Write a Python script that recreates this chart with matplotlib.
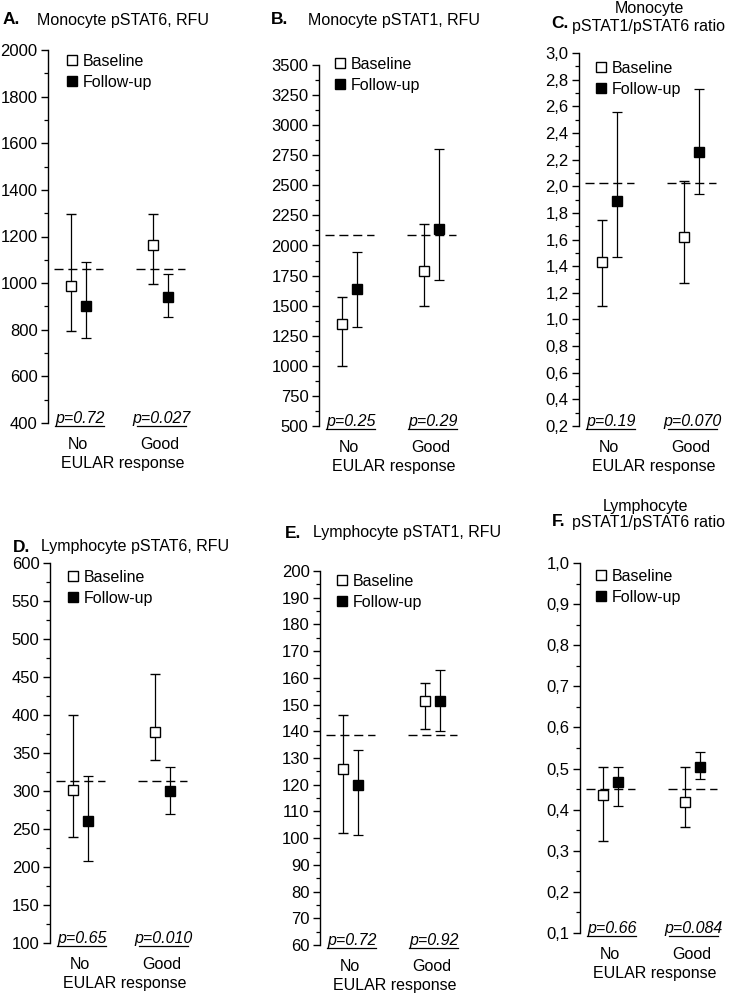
import matplotlib
matplotlib.use("Agg")
import matplotlib.pyplot as plt
from matplotlib.lines import Line2D
from matplotlib.ticker import MultipleLocator, FuncFormatter

plt.rcParams['font.family'] = ['Liberation Sans', 'DejaVu Sans']

# groups on the x axis
groups = ["No", "Good"]
series = ["Baseline", "Follow-up"]

# each entry: (mean, lower, upper) for No / Good
mono6_base = [(986, 793, 1297), (1164, 996, 1297)]
mono6_fu = [(903, 764, 1090), (939, 856, 1039)]
mono6_ref = 1060
mono6_p = ["p=0.72", "p=0.027"]

mono1_base = [(1345, 1000, 1570), (1790, 1495, 2182)]
mono1_fu = [(1636, 1323, 1946), (2133, 1717, 2804)]
mono1_ref = 2087
mono1_p = ["p=0.25", "p=0.29"]

mono_ratio_base = [(1.43, 1.10, 1.75), (1.62, 1.27, 2.04)]
mono_ratio_fu = [(1.89, 1.47, 2.56), (2.255, 1.945, 2.73)]
mono_ratio_ref = 2.025
mono_ratio_p = ["p=0.19", "p=0.070"]

lymph6_base = [(301, 240, 400), (378, 341, 454)]
lymph6_fu = [(261, 208, 320), (300, 270, 331)]
lymph6_ref = 313
lymph6_p = ["p=0.65", "p=0.010"]

lymph1_base = [(126, 102, 146), (151.5, 141, 158)]
lymph1_fu = [(120, 101, 133), (151.5, 140, 163)]
lymph1_ref = 138.5
lymph1_p = ["p=0.72", "p=0.92"]

lymph_ratio_base = [(0.435, 0.325, 0.503), (0.418, 0.357, 0.505)]
lymph_ratio_fu = [(0.467, 0.41, 0.505), (0.504, 0.474, 0.54)]
lymph_ratio_ref = 0.45
lymph_ratio_p = ["p=0.66", "p=0.084"]

W, H = 733, 1001
fig = plt.figure(figsize=(W / 100, H / 100), dpi=100)


def px_axes(left, bottom, top, width=150):
    return fig.add_axes([left / W, 1 - bottom / H, width / W, (bottom - top) / H])


def comma(v, pos):
    return f"{v:.1f}".replace(".", ",")


def draw_panel(ax, base, fu, ref, pvals, ylim, major, comma_fmt, leg_xy):
    off = 0.09
    for i, (b, f) in enumerate(zip(base, fu)):
        ax.errorbar(i - off, b[0], yerr=[[b[0] - b[1]], [b[2] - b[0]]], fmt='s',
                    ms=6.8, mfc='white', mec='black', mew=1.0, ecolor='black',
                    elinewidth=0.9, capsize=3.8, capthick=0.9, zorder=3)
        ax.errorbar(i + off, f[0], yerr=[[f[0] - f[1]], [f[2] - f[0]]], fmt='s',
                    ms=6.8, mfc='black', mec='black', ecolor='black',
                    elinewidth=0.9, capsize=3.8, capthick=0.9, zorder=3)
        ax.plot([i - 0.3, i + 0.3], [ref, ref], color='black', lw=1.0,
                ls=(0, (6.5, 3.5)), zorder=1)
        # p-value with underline just under the axis bottom
        ax.text(i + 0.02, -0.009, pvals[i], transform=ax.get_xaxis_transform(),
                ha='center', va='bottom', style='italic', fontsize=11.5)
        ax.plot([i - 0.29, i + 0.31], [-0.009, -0.009], color='black', lw=0.9,
                transform=ax.get_xaxis_transform(), clip_on=False)

    ax.set_xlim(-0.37, 1.46)
    ax.set_ylim(*ylim)
    ax.yaxis.set_major_locator(MultipleLocator(major))
    ax.yaxis.set_minor_locator(MultipleLocator(major / 2))
    if comma_fmt:
        ax.yaxis.set_major_formatter(FuncFormatter(comma))
    for s in ['top', 'right', 'bottom']:
        ax.spines[s].set_visible(False)
    ax.spines['left'].set_linewidth(1.0)
    ax.tick_params(axis='y', which='major', direction='out', length=5, width=1.0,
                   labelsize=12, pad=2.5)
    ax.tick_params(axis='y', which='minor', direction='out', length=3, width=0.9)
    ax.set_xticks([0, 1])
    ax.set_xticklabels(groups, fontsize=11.5)
    ax.tick_params(axis='x', length=0, pad=10)
    ax.set_xlabel("EULAR response", fontsize=11.5, labelpad=3)

    handles = [Line2D([], [], ls='none', marker='s', ms=6.8, mfc='white', mec='black'),
               Line2D([], [], ls='none', marker='s', ms=6.8, mfc='black', mec='black')]
    ax.legend(handles, series, loc='center left',
              bbox_to_anchor=(leg_xy[0] / W, 1 - leg_xy[1] / H),
              bbox_transform=fig.transFigure, frameon=False, fontsize=11.5,
              handlelength=0.55, handletextpad=0.4, labelspacing=0.38,
              borderpad=0, borderaxespad=0)


axA = px_axes(48, 423, 50)
draw_panel(axA, mono6_base, mono6_fu, mono6_ref, mono6_p, (400, 2000), 200, False, (68, 72))
axB = px_axes(319, 426, 65)
draw_panel(axB, mono1_base, mono1_fu, mono1_ref, mono1_p, (500, 3500), 250, False, (336, 75))
axC = px_axes(579, 426, 53)
draw_panel(axC, mono_ratio_base, mono_ratio_fu, mono_ratio_ref, mono_ratio_p, (0.2, 3.0), 0.2, True, (597, 79))
axD = px_axes(50, 943, 563)
draw_panel(axD, lymph6_base, lymph6_fu, lymph6_ref, lymph6_p, (100, 600), 50, False, (69, 588))
axE = px_axes(320, 945, 571)
draw_panel(axE, lymph1_base, lymph1_fu, lymph1_ref, lymph1_p, (60, 200), 10, False, (338, 592))
axF = px_axes(580, 933, 563)
draw_panel(axF, lymph_ratio_base, lymph_ratio_fu, lymph_ratio_ref, lymph_ratio_p, (0.1, 1.0), 0.1, True, (597, 587))


def label(x, y, s, **kw):
    fig.text(x / W, 1 - y / H, s, va='center', **kw)


# panel titles
label(3, 20, "A.", fontsize=12.5, fontweight='bold')
label(37, 20, "Monocyte pSTAT6, RFU", fontsize=11.5)
label(271, 20, "B.", fontsize=12.5, fontweight='bold')
label(308, 20, "Monocyte pSTAT1, RFU", fontsize=11.5)
label(551, 23, "C.", fontsize=12.5, fontweight='bold')
label(649, 9, "Monocyte", fontsize=11.5, ha='center')
label(649, 26, "pSTAT1/pSTAT6 ratio", fontsize=11.5, ha='center')
label(13, 547, "D.", fontsize=12.5, fontweight='bold')
label(41, 547, "Lymphocyte pSTAT6, RFU", fontsize=11.5)
label(285, 533, "E.", fontsize=12.5, fontweight='bold')
label(313, 533, "Lymphocyte pSTAT1, RFU", fontsize=11.5)
label(552, 521, "F.", fontsize=12.5, fontweight='bold')
label(646, 507, "Lymphocyte", fontsize=11.5, ha='center')
label(649, 523, "pSTAT1/pSTAT6 ratio", fontsize=11.5, ha='center')

fig.savefig("out.png", dpi=100)
